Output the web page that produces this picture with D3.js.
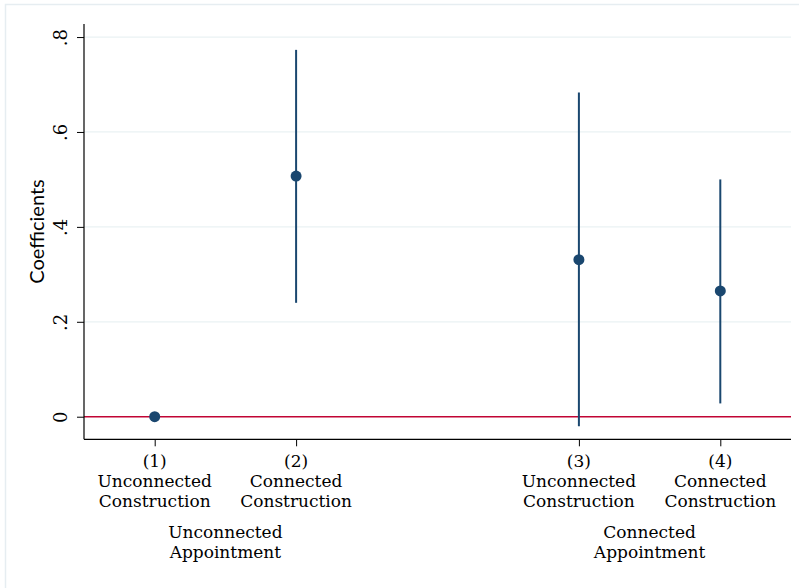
<!DOCTYPE html>
<html><head><meta charset="utf-8">
<script src="https://cdn.jsdelivr.net/npm/d3@7"></script>
<style>body{margin:0;background:#fff}</style>
</head><body>
<svg id="c" width="799" height="588"></svg>
<script>
const positions = [1, 2, 4, 5];
const numLabels = ["(1)", "(2)", "(3)", "(4)"];
const catLabels = [["Unconnected","Construction"],["Connected","Construction"],["Unconnected","Construction"],["Connected","Construction"]];
const coefs = [0, 0.507, 0.331, 0.265];
const ciLow = [null, 0.240, -0.020, 0.028];
const ciHigh = [null, 0.773, 0.683, 0.500];
const groupLabels = [["Unconnected","Appointment"],["Connected","Appointment"]];
const groupCenters = [1.5, 4.5];
const yTicks = [0, 0.2, 0.4, 0.6, 0.8];
const yTickLabels = ["0", ".2", ".4", ".6", ".8"];

const svg = d3.select("#c");
svg.append("rect").attr("x",5.5).attr("y",4.5).attr("width",900).attr("height",900)
  .attr("fill","#fff").attr("stroke","#e6edf1").attr("stroke-width",1.5);

const x = d3.scaleLinear().domain([0.5,5.5]).range([84,791]);
const y = d3.scaleLinear().domain([-0.0476,0.8275]).range([439.3,24]);

svg.append("g").selectAll("line").data(yTicks.filter(d=>d>0)).join("line")
  .attr("x1",84).attr("x2",791).attr("y1",d=>y(d)).attr("y2",d=>y(d))
  .attr("stroke","#eaf2f3").attr("stroke-width",1.2);

svg.append("line").attr("x1",84).attr("x2",791).attr("y1",y(0)).attr("y2",y(0))
  .attr("stroke","#c10534").attr("stroke-width",1.5);

const ya = svg.append("g").attr("transform","translate(84,0)")
  .call(d3.axisLeft(y).tickValues(yTicks).tickFormat((d,i)=>yTickLabels[i]).tickSize(7).tickPadding(0));
ya.select(".domain").attr("d",`M0,${y.range()[1]}V${y.range()[0]}`).attr("stroke","#000").attr("stroke-width",1.2);
ya.selectAll(".tick line").attr("stroke","#000");
ya.selectAll(".tick text").attr("x",0).attr("dy",null)
  .attr("transform",`translate(-24,0) rotate(-90)`)
  .attr("text-anchor","middle").attr("dominant-baseline","central")
  .style("font-family","'DejaVu Serif',serif").style("font-size","18px").attr("fill","#000");

const xa = svg.append("g").attr("transform","translate(0,439.3)")
  .call(d3.axisBottom(x).tickValues(positions).tickFormat("").tickSize(7));
xa.select(".domain").attr("d",`M84,0H791`).attr("stroke","#000").attr("stroke-width",1.2);
xa.selectAll(".tick line").attr("stroke","#000");

const serif = "'DejaVu Serif',serif";
const tl = svg.append("g").style("font-family",serif).style("font-size","17px").attr("fill","#000");
positions.forEach((p,i)=>{
  const t = tl.append("text").attr("text-anchor","middle");
  [numLabels[i], ...catLabels[i]].forEach((s,j)=>{
    t.append("tspan").attr("x",x(p)).attr("y",466.5+j*20).text(s);
  });
});
groupCenters.forEach((g,i)=>{
  const t = tl.append("text").attr("text-anchor","middle");
  groupLabels[i].forEach((s,j)=>{
    t.append("tspan").attr("x",x(g)).attr("y",537.5+j*20).text(s);
  });
});

svg.append("text").attr("transform",`translate(44,231.5) rotate(-90)`)
  .attr("text-anchor","middle").style("font-family","Lato,'Open Sans',sans-serif").style("font-size","20px")
  .text("Coefficients");

const data = positions.map((p,i)=>({p, c:coefs[i], lo:ciLow[i], hi:ciHigh[i]}));
svg.append("g").selectAll("line").data(data.filter(d=>d.lo!==null)).join("line")
  .attr("x1",d=>x(d.p)).attr("x2",d=>x(d.p)).attr("y1",d=>y(d.lo)).attr("y2",d=>y(d.hi))
  .attr("stroke","#1a476f").attr("stroke-width",2);
svg.append("g").selectAll("circle").data(data).join("circle")
  .attr("cx",d=>x(d.p)).attr("cy",d=>y(d.c)).attr("r",5.5).attr("fill","#1a476f");
</script>
</body></html>
